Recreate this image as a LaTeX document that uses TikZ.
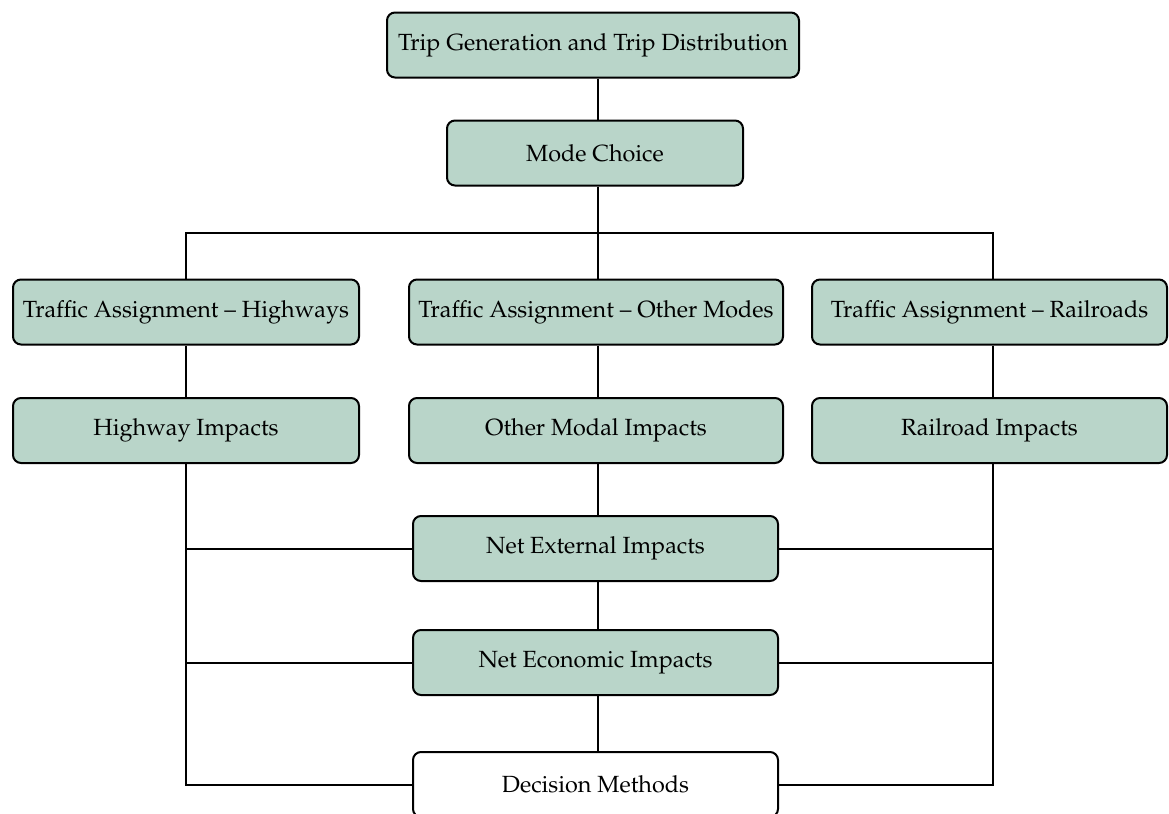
\documentclass[tikz,border=0pt]{standalone}
\usepackage[T1]{fontenc}
\usepackage{mathpazo}
\definecolor{boxgreen}{RGB}{185,213,201}
\tikzset{
	stage/.style={draw=black, line width=1pt, rounded corners=4pt, fill=boxgreen, minimum height=32.5pt, inner sep=0pt, font=\fontsize{11.7}{14}\selectfont},
	endstage/.style={stage, fill=white},
	link/.style={line width=1pt}
}

\begin{document}
\begin{tikzpicture}[x=0.5pt, y=-0.5pt]

	\useasboundingbox (0,0) rectangle (1169,814);
	\clip (0,0) rectangle (1169,814);

	\node[stage, minimum width=206pt] (tripgen) at (593,45) {Trip Generation and Trip Distribution};
	\node[stage, minimum width=148pt] (mode) at (595,153) {Mode Choice};

	\node[stage, minimum width=173pt] (tahwy) at (186,312) {Traffic Assignment -- Highways};
	\node[stage, minimum width=187pt] (taother) at (596,312) {Traffic Assignment -- Other Modes};
	\node[stage, minimum width=177.5pt] (tarail) at (989.5,312) {Traffic Assignment -- Railroads};

	\node[stage, minimum width=173pt] (hwyimp) at (186,430.5) {Highway Impacts};
	\node[stage, minimum width=187pt] (otherimp) at (596,430.5) {Other Modal Impacts};
	\node[stage, minimum width=177.5pt] (railimp) at (989.5,430.5) {Railroad Impacts};

	\node[stage, minimum width=182.5pt] (netext) at (595.5,548.5) {Net External Impacts};
	\node[stage, minimum width=182.5pt] (neteco) at (595.5,662.5) {Net Economic Impacts};
	\node[endstage, minimum width=182.5pt] (decide) at (595.5,784.5) {Decision Methods};

	\coordinate (split) at (598,233);
	\coordinate (lfoot) at (186,784.5);
	\coordinate (rfoot) at (993,784.5);

	% top of the tree
	\draw[link] (tripgen.south -| split) -- (mode.north -| split);
	\draw[link] (mode.south -| split) -- (split);
	\draw[link] (tahwy.north -| lfoot) |- (split) -| (tarail.north -| rfoot);
	\draw[link] (split) -- (taother.north -| split);

	\draw[link] (tahwy.south -| lfoot) -- (hwyimp.north -| lfoot);
	\draw[link] (taother.south -| split) -- (otherimp.north -| split);
	\draw[link] (tarail.south -| rfoot) -- (railimp.north -| rfoot);

	% middle column
	\draw[link] (otherimp.south -| split) -- (netext.north -| split);
	\draw[link] (netext.south -| split) -- (neteco.north -| split);
	\draw[link] (neteco.south -| split) -- (decide.north -| split);

	% side rails
	\draw[link] (hwyimp.south -| lfoot) -- (lfoot) -- (decide.west);
	\draw[link] (railimp.south -| rfoot) -- (rfoot) -- (decide.east);
	\foreach \n in {netext, neteco}
	{
		\draw[link] (\n.west) -- (\n.west -| lfoot);
		\draw[link] (\n.east) -- (\n.east -| rfoot);
	}

\end{tikzpicture}
\end{document}
